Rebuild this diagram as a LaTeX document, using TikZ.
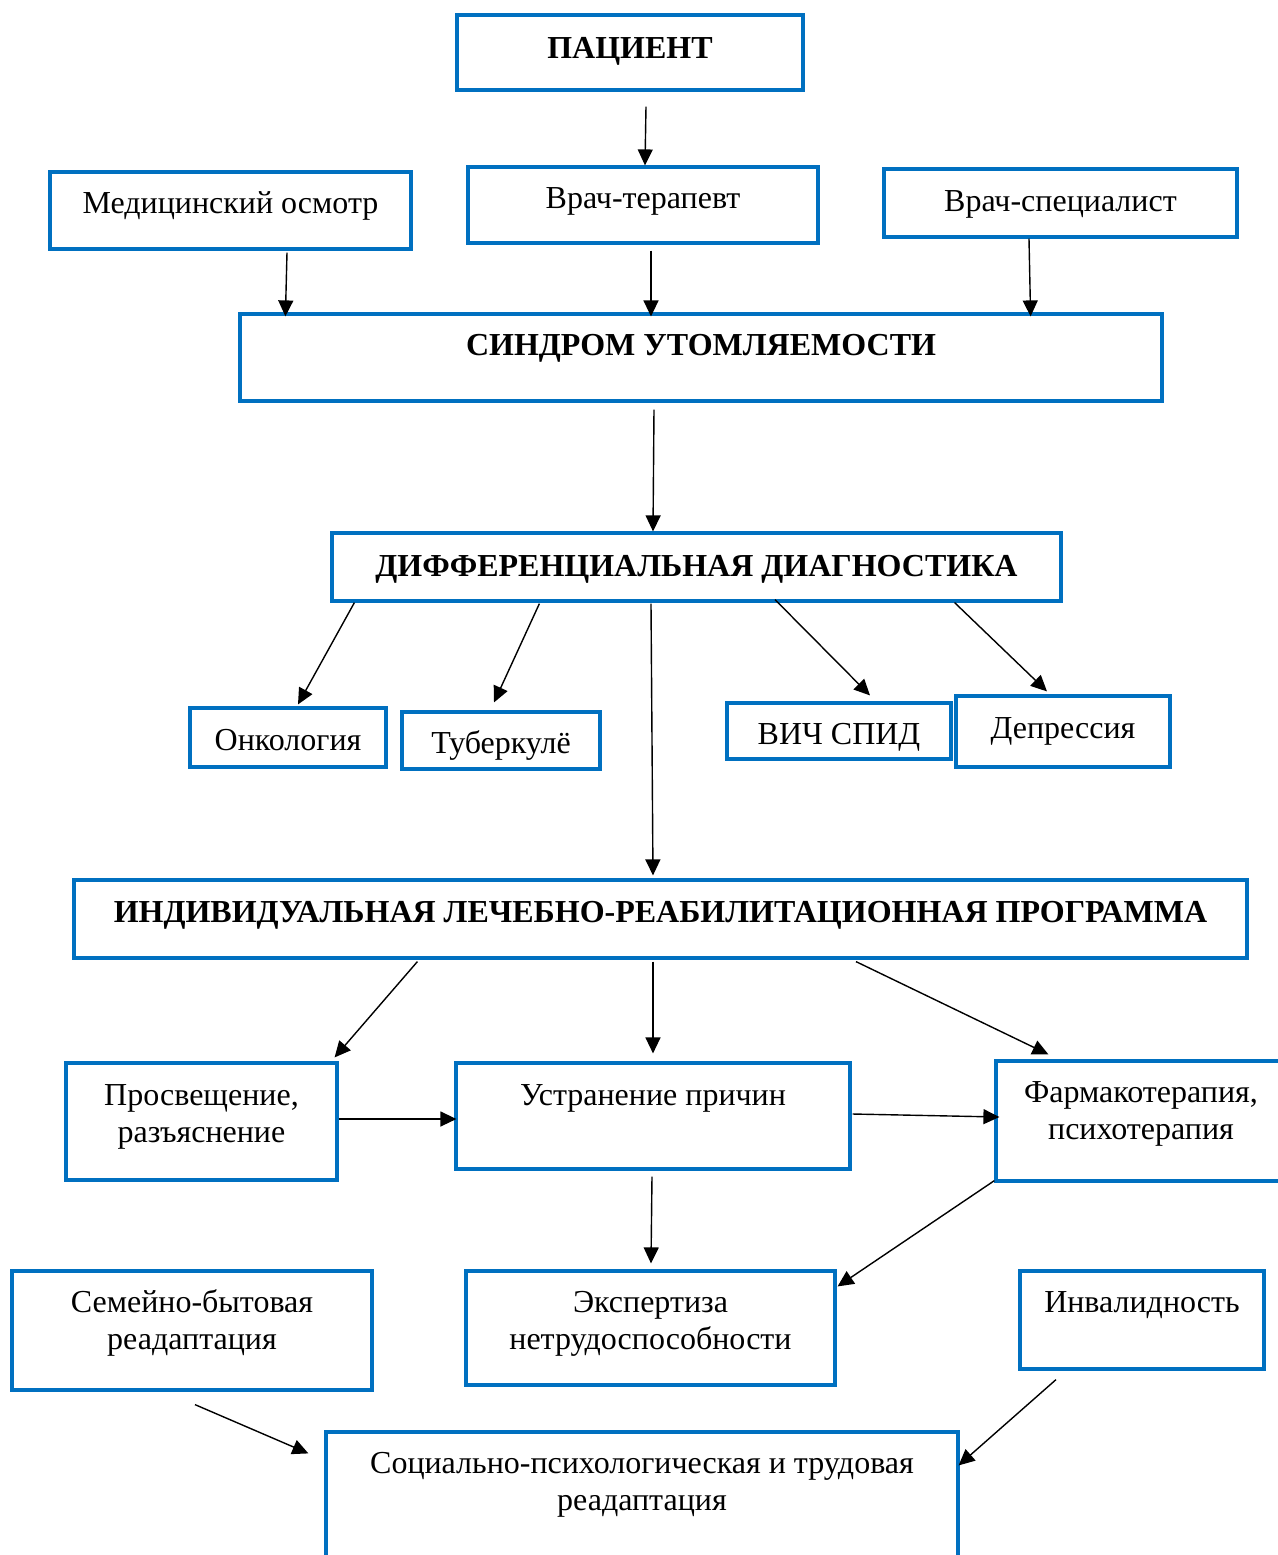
\documentclass[tikz,border=0pt]{standalone}
\usepackage{fontspec}
\setmainfont{Liberation Serif}
\usetikzlibrary{arrows.meta,calc}
\definecolor{boxblue}{HTML}{0070C0}

\tikzset{
  box/.style={draw=boxblue, line width=1.6pt, rectangle, inner sep=0pt},
  txt/.style={align=center, anchor=base, inner sep=0pt, font=\fontsize{16}{18.3}\selectfont},
  arr/.style={-{Triangle[length=8pt,width=7.5pt]}, line width=0.7pt},
}

\begin{document}
\begin{tikzpicture}[x=0.5pt,y=-0.5pt]
\useasboundingbox (0,0) rectangle (1278,1555);
\clip (0,0) rectangle (1278,1555);

% boxes
\node[box, minimum width=173pt, minimum height=37.5pt] (pac) at (630,52.5) {};
\node[box, minimum width=180.5pt, minimum height=38.5pt] (med) at (230.5,210.5) {};
\node[box, minimum width=175pt, minimum height=38pt] (ter) at (643,205) {};
\node[box, minimum width=176.5pt, minimum height=34pt] (spec) at (1060.5,203) {};
\node[box, minimum width=461pt, minimum height=43.5pt] (sind) at (701,357.5) {};
\node[box, minimum width=364.5pt, minimum height=34pt] (diff) at (696.5,567) {};
\node[box, minimum width=98pt, minimum height=29.5pt] (onk) at (288,737.5) {};
\node[box, minimum width=99pt, minimum height=28.5pt] (tub) at (501,740.5) {};
\node[box, minimum width=112pt, minimum height=28pt] (vich) at (839,731) {};
\node[box, minimum width=107pt, minimum height=35.5pt] (depr) at (1063,731.5) {};
\node[box, minimum width=586.5pt, minimum height=39pt] (ind) at (660.5,919) {};
\node[box, minimum width=135.5pt, minimum height=58.5pt] (pros) at (201.5,1121.5) {};
\node[box, minimum width=197pt, minimum height=53pt] (ustr) at (653,1116) {};
\node[box, minimum width=147pt, minimum height=60pt] (farm) at (1143,1121) {};
\node[box, minimum width=180pt, minimum height=59.5pt] (sem) at (192,1330.5) {};
\node[box, minimum width=184.5pt, minimum height=57pt] (eksp) at (650.5,1328) {};
\node[box, minimum width=122pt, minimum height=49pt] (inv) at (1142,1320) {};
\node[box, minimum width=316pt, minimum height=84pt] (soc) at (642,1516) {};

% texts (base = last line)
\node[txt] (pac-t) at ($(pac.north)+(0,45)$) {\textbf{ПАЦИЕНТ}};
\node[txt] (med-t) at ($(med.north)+(0,43)$) {Медицинский осмотр};
\node[txt] (ter-t) at ($(ter.north)+(0,43)$) {Врач-терапевт};
\node[txt] (spec-t) at ($(spec.north)+(0,44)$) {Врач-специалист};
\node[txt] (sind-t) at ($(sind.north)+(0,43)$) {\textbf{СИНДРОМ УТОМЛЯЕМОСТИ}};
\node[txt] (diff-t) at ($(diff.north)+(0,45)$) {\textbf{ДИФФЕРЕНЦИАЛЬНАЯ ДИАГНОСТИКА}};
\node[txt] (onk-t) at ($(onk.north)+(0,44)$) {Онкология};
\node[txt] (tub-t) at ($(tub.north)+(0,43)$) {Туберкулё};
\node[txt] (vich-t) at ($(vich.north)+(0,43)$) {ВИЧ СПИД};
\node[txt] (depr-t) at ($(depr.north)+(0,44)$) {Депрессия};
\node[txt] (ind-t) at ($(ind.north)+(0,44)$) {\textbf{ИНДИВИДУАЛЬНАЯ ЛЕЧЕБНО-РЕАБИЛИТАЦИОННАЯ ПРОГРАММА}};
\node[txt] (pros-t) at ($(pros.north)+(0,81)$) {Просвещение,\\разъяснение};
\node[txt] (ustr-t) at ($(ustr.north)+(0,44)$) {Устранение причин};
\node[txt] (farm-t) at ($(farm.north)+(-2,80)$) {Фармакотерапия,\\психотерапия};
\node[txt] (sem-t) at ($(sem.north)+(0,80)$) {Семейно-бытовая\\реадаптация};
\node[txt] (eksp-t) at ($(eksp.north)+(0,80)$) {Экспертиза\\нетрудоспособности};
\node[txt] (inv-t) at ($(inv.north)+(0,43)$) {Инвалидность};
\node[txt] (soc-t) at ($(soc.north)+(0,80)$) {Социально-психологическая и трудовая\\реадаптация};

% arrows
\draw[arr] ($(pac.south)+(16,15)$) -- ($(ter.north)+(2,0)$);
\draw[arr] ($(med.south)+(56.5,2)$) -- ($(sind.north west)+(47,4)$);
\draw[arr] ($(ter.south)+(8,6)$) -- ($(sind.north)+(-50,4)$);
\draw[arr] ($(spec.south)+(-31.5,0)$) -- ($(sind.north east)+(-133,4)$);
\draw[arr] ($(sind.south)+(-47,7)$) -- ($(diff.north)+(-43.5,0)$);
\draw[arr] ($(diff.south west)+(24,0)$) -- ($(onk.north)+(10,-2)$);
\draw[arr] ($(diff.south west)+(209,1)$) -- ($(tub.north)+(-7,-8)$);
\draw[arr] ($(diff.south)+(78.5,-3)$) -- ($(vich.north)+(31,-6)$);
\draw[arr] ($(diff.south east)+(-108,0)$) -- ($(depr.north)+(-16,-3)$);
\draw[arr] ($(diff.south)+(-45.5,1)$) -- ($(ind.north)+(-7.5,-3)$);
\draw[arr] ($(ind.south west)+(345,2)$) -- ($(pros.north east)+(-4,-4)$);
\draw[arr] ($(ind.south)+(-7.5,2)$) -- ($(ustr.north)+(0,-8)$);
\draw[arr] ($(ind.south)+(195.5,2)$) -- ($(farm.north west)+(54,-5)$);
\draw[arr] ($(pros.east)+(0,-2.5)$) -- ($(ustr.west)+(2,3)$);
\draw[arr] ($(ustr.east)+(1,-2)$) -- ($(farm.west)+(5,-4)$);
\draw[arr] ($(ustr.south)+(-1,6)$) -- ($(eksp.north)+(0.5,-6)$);
\draw[arr] ($(farm.south west)+(0,-2)$) -- ($(eksp.north east)+(1,17)$);
\draw[arr] ($(sem.south)+(3,13)$) -- ($(soc.north west)+(-16,23)$);
\draw[arr] ($(inv.south)+(-86,9)$) -- ($(soc.north east)+(-1,35)$);
\end{tikzpicture}
\end{document}
